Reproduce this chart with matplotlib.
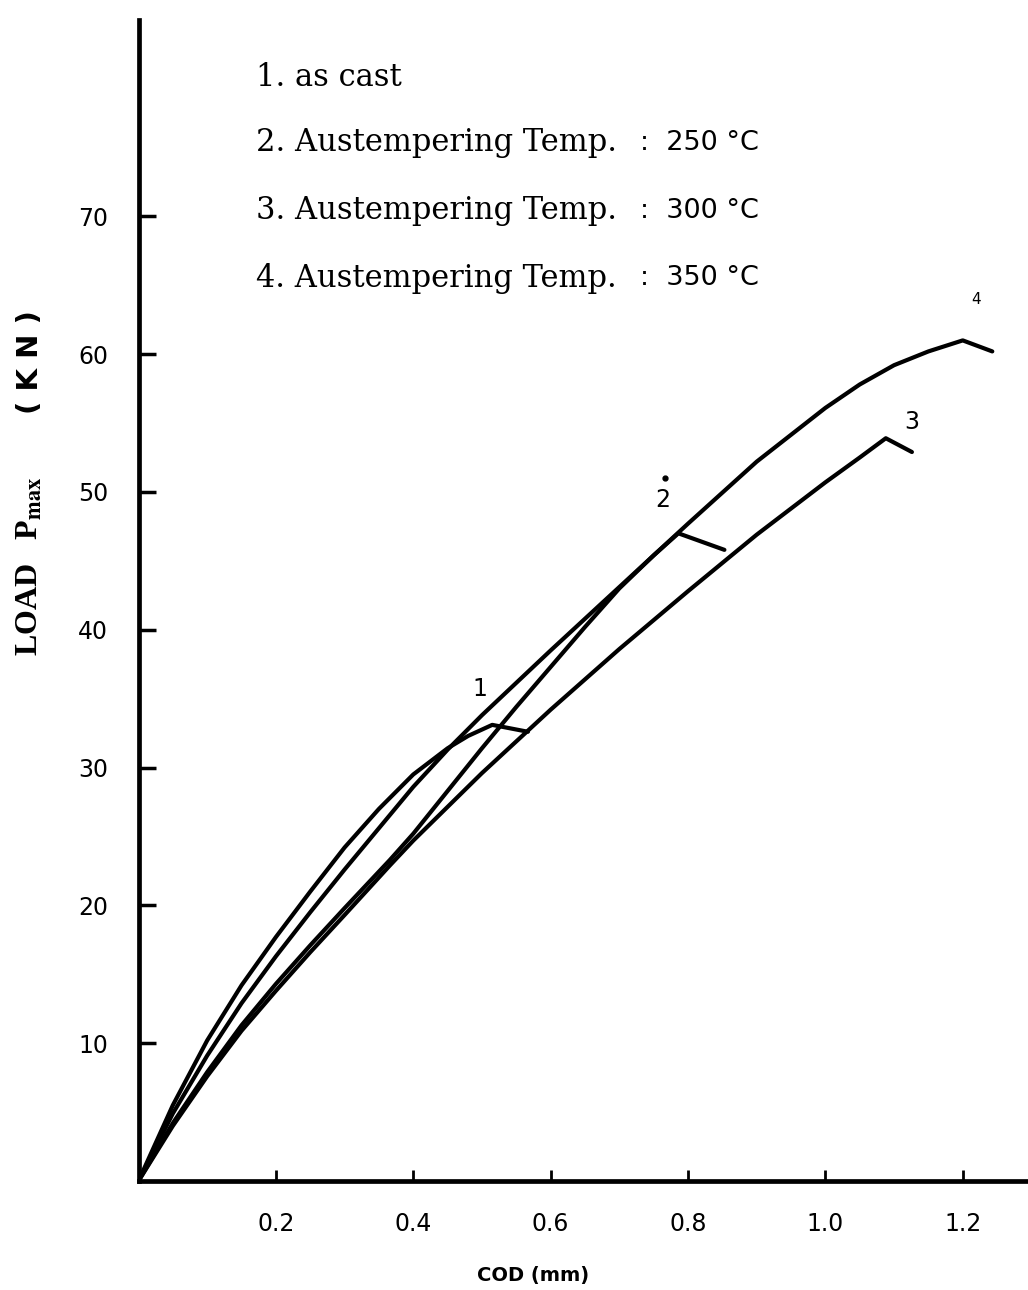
import matplotlib
matplotlib.use("Agg")
import matplotlib.pyplot as plt

# Load-COD curves of ductile cast iron, as cast and after austempering
cod_1 = [0, 0.05, 0.10, 0.15, 0.20, 0.25, 0.30, 0.35, 0.40, 0.45, 0.48, 0.515, 0.567]
load_1 = [0, 5.5, 10.2, 14.2, 17.7, 21.0, 24.2, 27.0, 29.5, 31.4, 32.3, 33.1, 32.6]

cod_2 = [0, 0.05, 0.10, 0.15, 0.20, 0.25, 0.30, 0.366, 0.40, 0.45, 0.50, 0.55,
         0.60, 0.65, 0.70, 0.75, 0.786, 0.853]
load_2 = [0, 4.2, 7.9, 11.3, 14.3, 17.1, 19.8, 23.3, 25.2, 28.3, 31.4, 34.4,
          37.3, 40.2, 43.0, 45.4, 47.0, 45.8]

cod_3 = [0, 0.05, 0.10, 0.15, 0.20, 0.25, 0.30, 0.366, 0.40, 0.50, 0.60, 0.70,
         0.80, 0.90, 1.00, 1.05, 1.088, 1.126]
load_3 = [0, 4.0, 7.6, 10.9, 13.8, 16.6, 19.3, 22.9, 24.7, 29.6, 34.2, 38.6,
          42.8, 46.9, 50.7, 52.5, 53.9, 52.9]

cod_4 = [0, 0.05, 0.10, 0.15, 0.20, 0.25, 0.30, 0.35, 0.40, 0.45, 0.50, 0.60,
         0.70, 0.80, 0.90, 1.00, 1.05, 1.10, 1.15, 1.20, 1.243]
load_4 = [0, 4.9, 9.1, 12.9, 16.3, 19.5, 22.6, 25.6, 28.6, 31.3, 33.8, 38.5,
          43.1, 47.7, 52.2, 56.1, 57.8, 59.2, 60.2, 61.0, 60.2]

curve_labels = ["1", "2", "3", "4"]
label_pos_x = [0.497, 0.763, 1.126, 1.220]
label_pos_y = [35.7, 49.4, 55.1, 64.0]

legend_left = ["1. as cast", "2. Austempering Temp.", "3. Austempering Temp.",
               "4. Austempering Temp."]
legend_right = ["", ":  250 °C", ":  300 °C", ":  350 °C"]

x_ticks = [0.2, 0.4, 0.6, 0.8, 1.0, 1.2]
x_tick_labels = ["0.2", "0.4", "0.6", "0.8", "1.0", "1.2"]
y_ticks = [10, 20, 30, 40, 50, 60, 70]
y_tick_labels = ["10", "20", "30", "40", "50", "60", "70"]

W, H = 1028, 1290
fig = plt.figure(figsize=(W / 100, H / 100), dpi=100)
ax = fig.add_axes([138.5 / W, 1 - 1181 / H, 1 - 138.5 / W, (1181 - 20) / H])
ax.set_xlim(0, 1.295)
ax.set_ylim(0, 84.25)

for xs, ys in [(cod_1, load_1), (cod_2, load_2), (cod_3, load_3), (cod_4, load_4)]:
    ax.plot(xs, ys, color="black", lw=3.0, solid_joinstyle="round",
            solid_capstyle="round")

for s in ["top", "right"]:
    ax.spines[s].set_visible(False)
for s in ["left", "bottom"]:
    ax.spines[s].set_linewidth(3.4)

ax.set_xticks(x_ticks)
ax.set_xticklabels(x_tick_labels, fontsize=17, family="DejaVu Sans")
ax.set_yticks(y_ticks)
ax.set_yticklabels(y_tick_labels, fontsize=17, family="DejaVu Sans")
ax.tick_params(axis="x", direction="in", length=8, width=2, pad=22)
ax.tick_params(axis="y", direction="in", length=12, width=2.5, pad=22)

for t, lx, ly in zip(curve_labels, label_pos_x, label_pos_y):
    ax.text(lx, ly, t, fontsize=17 if t != "4" else 11, ha="center", va="center",
            family="DejaVu Sans")
# dot printed above the "2"
ax.plot([0.766], [51.0], marker="o", ms=3.5, color="black")


def fig_text(px, py, s, **kw):
    fig.text(px / W, 1 - py / H, s, **kw)


legend_y = [78, 143, 211, 278]
for left, right, ly in zip(legend_left, legend_right, legend_y):
    fig_text(256, ly, left, fontsize=22, family="DejaVu Serif", va="center",
             ha="left")
    if right:
        fig_text(640, ly, right, fontsize=19.5, family="DejaVu Sans", va="center",
                 ha="left")

plt.rcParams["mathtext.fontset"] = "stix"
fig_text(30, 566, r"LOAD   P$_{\mathbf{max}}$", rotation=90, fontsize=23,
         family="Liberation Serif", fontweight="bold", ha="center", va="center")
fig_text(30, 362, "( K N )", rotation=90, fontsize=21,
         family="DejaVu Sans", fontweight="bold", ha="center", va="center")
fig_text(533, 1275, "COD (mm)", fontsize=14, family="DejaVu Sans",
         fontweight="bold", ha="center", va="center")

fig.savefig("out.png", dpi=100)
